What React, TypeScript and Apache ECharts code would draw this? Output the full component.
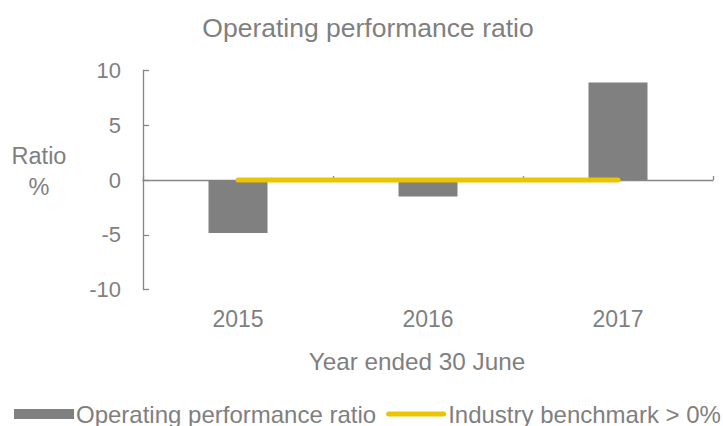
import React, { useEffect, useRef } from "react";
import * as echarts from "echarts";

const categories = ["2015", "2016", "2017"];
const ratioValues = [-4.85, -1.5, 8.9];
const benchmarkValues = [0, 0, 0];
const yTicks = { min: -10, max: 10, interval: 5 };

const GREY = "#7F7F7F";
const FONT = "'Liberation Sans', Arial, sans-serif";

export default function App() {
  const ref = useRef<HTMLDivElement>(null);
  useEffect(() => {
    if (!ref.current) return;
    const chart = echarts.init(ref.current, undefined, { renderer: "svg" });
    chart.setOption({
      animation: false,
      textStyle: { fontFamily: FONT, color: GREY },
      graphic: [
        {
          type: "text",
          x: 368,
          y: 28,
          style: {
            text: "Operating performance ratio",
            fontSize: 26.5,
            fontFamily: FONT,
            fill: GREY,
            align: "center",
            verticalAlign: "middle",
          },
        },
        {
          type: "text",
          x: 39,
          y: 171,
          style: {
            text: "Ratio\n%",
            fontSize: 23.5,
            lineHeight: 31,
            fontFamily: FONT,
            fill: GREY,
            align: "center",
            verticalAlign: "middle",
          },
        },
        {
          type: "text",
          x: 417,
          y: 361,
          style: {
            text: "Year ended 30 June",
            fontSize: 24.3,
            fontFamily: FONT,
            fill: GREY,
            align: "center",
            verticalAlign: "middle",
          },
        },
      ],
      legend: {
        left: 14,
        top: 402,
        padding: 0,
        itemWidth: 60,
        itemHeight: 10,
        itemGap: 10,
        textStyle: { fontSize: 24, lineHeight: 24, color: GREY, fontFamily: FONT, padding: [0, 0, 0, -3] },
        data: [
          { name: "Operating performance ratio", icon: "rect" },
          {
            name: "Industry benchmark > 0%",
            icon: "path://M2.5,0 H57.5 A2.5,2.5 0 0 1 57.5,5 H2.5 A2.5,2.5 0 0 1 2.5,0 Z",
          },
        ],
      },
      grid: { left: 143, right: 10, top: 70.5, height: 219 },
      xAxis: [
        {
          type: "category",
          data: categories,
          position: "bottom",
          axisLine: { show: false, onZero: false },
          axisTick: { show: false },
          axisLabel: { fontSize: 23, color: GREY, fontFamily: FONT, margin: 18 },
        },
        {
          type: "category",
          data: categories,
          position: "bottom",
          axisLine: { show: true, onZero: true, lineStyle: { color: "#868686", width: 1.3 } },
          axisTick: { show: true, inside: true, length: 4, lineStyle: { color: "#868686", width: 1.3 } },
          axisLabel: { show: false },
        },
      ],
      yAxis: {
        type: "value",
        min: yTicks.min,
        max: yTicks.max,
        interval: yTicks.interval,
        splitLine: { show: false },
        axisLine: { show: true, lineStyle: { color: "#868686", width: 1.3 } },
        axisTick: { show: true, inside: true, length: 6, lineStyle: { color: "#868686", width: 1.3 } },
        axisLabel: { fontSize: 22, color: GREY, fontFamily: FONT, margin: 22 },
      },
      series: [
        {
          name: "Operating performance ratio",
          type: "bar",
          xAxisIndex: 0,
          data: ratioValues,
          barWidth: 59,
          itemStyle: { color: "#808080" },
        },
        {
          name: "Industry benchmark > 0%",
          type: "line",
          xAxisIndex: 0,
          data: benchmarkValues,
          symbol: "none",
          lineStyle: { color: "#EDC400", width: 5, cap: "round" },
          itemStyle: { color: "#EDC400" },
          z: 3,
        },
      ],
    });
    return () => chart.dispose();
  }, []);
  return (
    <div
      ref={ref}
      style={{ position: "fixed", left: 0, top: 0, width: 723, height: 426, background: "#fff" }}
    />
  );
}
